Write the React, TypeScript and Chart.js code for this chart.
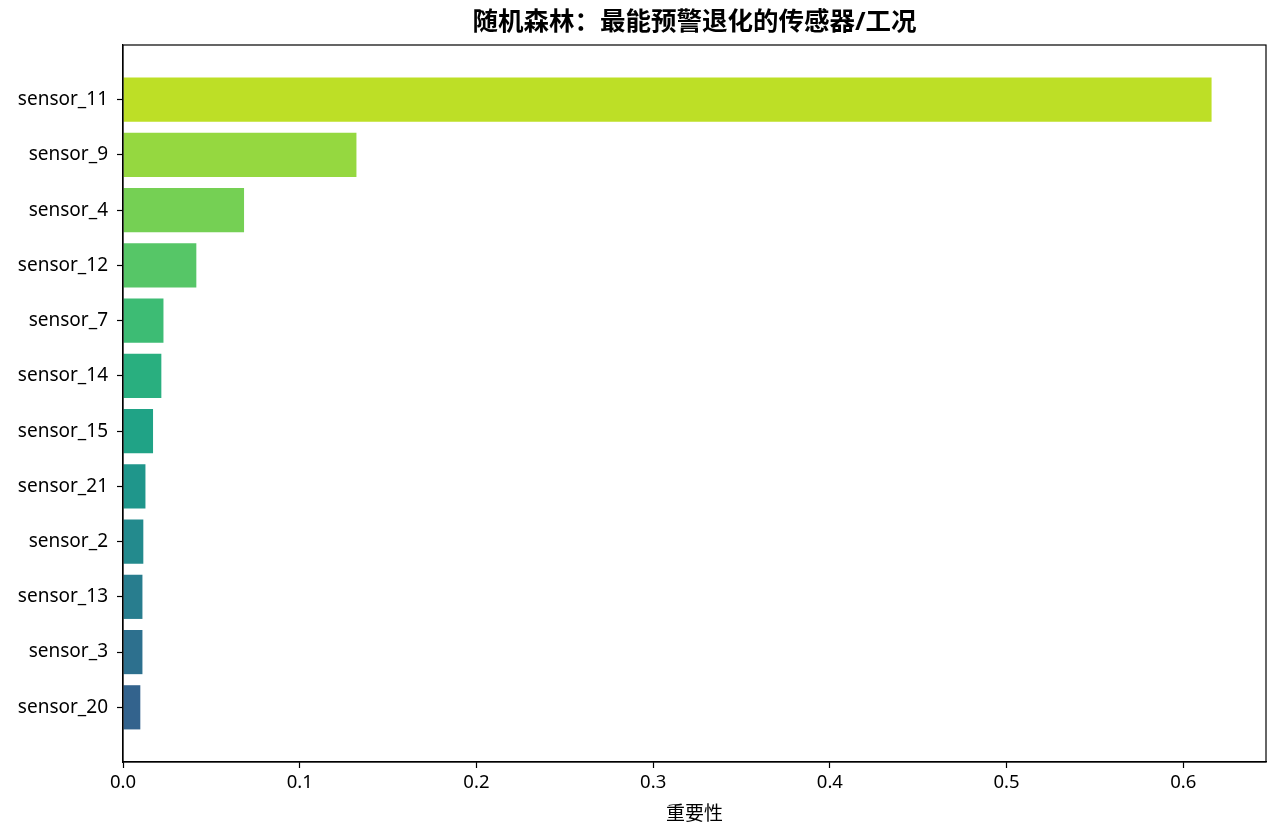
import { useEffect, useRef } from "react"
import { Chart, registerables } from "chart.js"

Chart.register(...registerables)

// top to bottom
const sensors = [
  "sensor_11",
  "sensor_9",
  "sensor_4",
  "sensor_12",
  "sensor_7",
  "sensor_14",
  "sensor_15",
  "sensor_21",
  "sensor_2",
  "sensor_13",
  "sensor_3",
  "sensor_20",
]

const importance = [0.616, 0.1321, 0.0685, 0.0415, 0.0229, 0.0217, 0.017, 0.0127, 0.0115, 0.011, 0.011, 0.0098]

const barColors = [
  "#bddf26",
  "#95d840",
  "#75d054",
  "#56c667",
  "#3dbc74",
  "#29af7f",
  "#20a386",
  "#1f968b",
  "#238a8d",
  "#287d8e",
  "#2d708e",
  "#33638d",
]

const xTicks = [0, 0.1, 0.2, 0.3, 0.4, 0.5, 0.6]

const FONT = "'Noto Sans', 'Noto Sans CJK SC', sans-serif"

// draws the top and right spines too, like matplotlib
const framePlugin = {
  id: "frame",
  afterDraw(chart) {
    const { ctx, chartArea } = chart
    ctx.save()
    ctx.strokeStyle = "#000"
    ctx.lineWidth = 1.2
    ctx.strokeRect(chartArea.left, chartArea.top, chartArea.right - chartArea.left, chartArea.bottom - chartArea.top)
    ctx.restore()
  },
}

export default function App() {
  const chartRef = useRef(null)
  const chartInstance = useRef(null)

  useEffect(() => {
    document.body.style.margin = "0"
    if (!chartRef.current) return
    if (chartInstance.current) chartInstance.current.destroy()

    const maxVal = Math.max(...importance)
    const n = sensors.length

    const ctx = chartRef.current.getContext("2d")
    chartInstance.current = new Chart(ctx, {
      type: "bar",
      data: {
        datasets: [
          {
            label: "重要性",
            data: importance.map((v, i) => ({ x: v, y: i })),
            backgroundColor: barColors,
            borderWidth: 0,
            barPercentage: 0.8,
            categoryPercentage: 1.0,
          },
        ],
      },
      options: {
        indexAxis: "y",
        animation: false,
        responsive: true,
        maintainAspectRatio: false,
        layout: { padding: { top: 0, right: 14, bottom: 0, left: 0 } },
        plugins: {
          legend: { display: false },
          tooltip: { enabled: false },
          title: {
            display: true,
            text: "随机森林：最能预警退化的传感器/工况",
            color: "#000",
            font: { family: FONT, size: 25.5, weight: "bold", lineHeight: 1.2 },
            padding: { top: 7, bottom: 7.4 },
            fullSize: false,
          },
        },
        scales: {
          x: {
            type: "linear",
            min: 0,
            max: maxVal * 1.05,
            afterBuildTicks: (scale) => {
              scale.ticks = xTicks.map((v) => ({ value: v }))
            },
            afterFit: (scale) => {
              scale.height = 72
            },
            ticks: {
              color: "#000",
              font: { family: FONT, size: 18.5 },
              padding: 4,
              maxRotation: 0,
              callback: (v) => Number(v).toFixed(1),
            },
            grid: {
              drawOnChartArea: false,
              drawTicks: true,
              tickLength: 6,
              tickColor: "#000",
              tickWidth: 1.2,
            },
            border: { color: "#000", width: 1.2 },
            title: {
              display: true,
              text: "重要性",
              color: "#000",
              font: { family: FONT, size: 19 },
              padding: { top: 0, bottom: 8 },
            },
          },
          y: {
            type: "linear",
            reverse: true,
            offset: false,
            min: -0.99,
            max: n - 1 + 0.99,
            afterBuildTicks: (scale) => {
              scale.ticks = sensors.map((_, i) => ({ value: i }))
            },
            afterFit: (scale) => {
              scale.width = 123
            },
            ticks: {
              color: "#000",
              font: { family: FONT, size: 19 },
              padding: 9,
              callback: (v) => sensors[v] ?? "",
            },
            grid: {
              offset: false,
              drawOnChartArea: false,
              drawTicks: true,
              tickLength: 6,
              tickColor: "#000",
              tickWidth: 1.2,
            },
            border: { color: "#000", width: 1.2 },
          },
        },
      },
      plugins: [framePlugin],
    })

    return () => {
      if (chartInstance.current) {
        chartInstance.current.destroy()
        chartInstance.current = null
      }
    }
  }, [])

  return (
    <div style={{ width: 1280, height: 834, position: "relative", background: "#fff" }}>
      <canvas ref={chartRef}></canvas>
    </div>
  )
}
